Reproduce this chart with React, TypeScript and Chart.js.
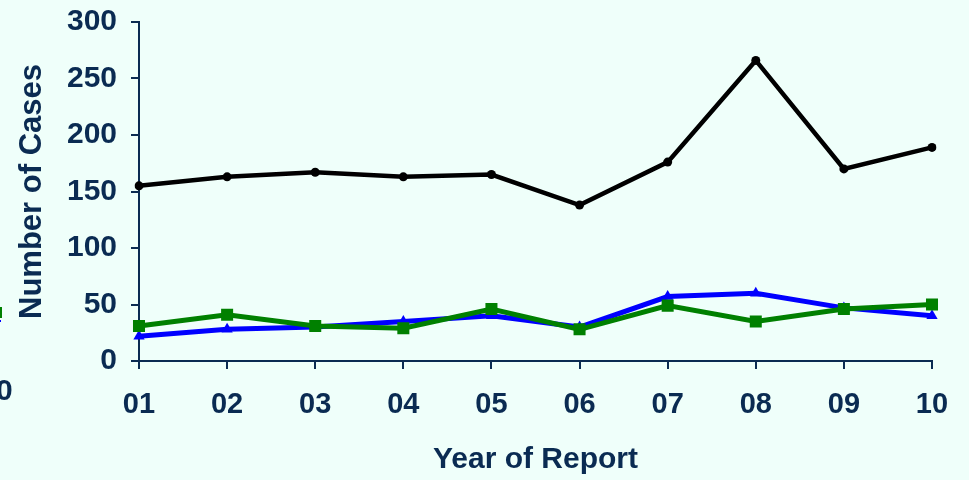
import React, { useEffect, useRef } from "react";
import { Chart, registerables } from "chart.js";

Chart.register(...registerables);

const years = ["01", "02", "03", "04", "05", "06", "07", "08", "09", "10"];
const blackSeries = [155, 163, 167, 163, 165, 138, 176, 266, 170, 189];
const greenSeries = [31, 41, 31, 29, 46, 28, 49, 35, 46, 50];
const blueSeries = [22, 28, 30, 35, 40, 30, 57, 60, 47, 40];

const NAVY = "#0a2b52";
const BG = "#effffa";
const FONT = "'Liberation Sans', Arial, sans-serif";

const bgPlugin = {
  id: "bg",
  beforeDraw(chart: any) {
    const { ctx, width, height } = chart;
    ctx.save();
    ctx.fillStyle = BG;
    ctx.fillRect(0, 0, width, height);
    ctx.restore();
  },
  afterDraw(chart: any) {
    // cropped fragments of an off-canvas legend at the left edge
    const { ctx } = chart;
    ctx.save();
    ctx.fillStyle = "#008000";
    ctx.fillRect(-9, 307, 11, 11);
    ctx.fillStyle = "#0000ff";
    ctx.fillRect(-9, 320, 10, 2);
    ctx.fillStyle = NAVY;
    ctx.font = `bold 30px ${FONT}`;
    ctx.textAlign = "left";
    ctx.textBaseline = "alphabetic";
    ctx.fillText("0", -4, 400);
    ctx.restore();
  },
};

export default function App() {
  const ref = useRef<HTMLCanvasElement>(null);
  useEffect(() => {
    document.body.style.margin = "0";
    const chart = new Chart(ref.current!, {
      type: "line",
      data: {
        labels: years,
        datasets: [
          {
            data: blackSeries,
            borderColor: "#000000",
            backgroundColor: "#000000",
            borderWidth: 4.5,
            pointStyle: "circle",
            pointRadius: 4.5,
            pointBorderWidth: 0,
            tension: 0,
          },
          {
            data: greenSeries,
            borderColor: "#008000",
            backgroundColor: "#008000",
            borderWidth: 5,
            pointStyle: "rect",
            pointRadius: 8.5,
            pointBorderWidth: 0,
            tension: 0,
          },
          {
            data: blueSeries,
            borderColor: "#0000ff",
            backgroundColor: "#0000ff",
            borderWidth: 5,
            pointStyle: "triangle",
            pointRadius: 6.5,
            pointBorderWidth: 0,
            tension: 0,
          },
        ],
      },
      options: {
        responsive: false,
        animation: false,
        layout: { padding: { top: 22, right: 37, left: 0, bottom: 0 } },
        plugins: { legend: { display: false }, tooltip: { enabled: false } },
        scales: {
          x: {
            offset: false,
            grid: {
              drawOnChartArea: false,
              drawTicks: true,
              tickLength: 8,
              color: NAVY,
              lineWidth: 2,
            },
            border: { display: true, color: NAVY, width: 2 },
            ticks: {
              color: NAVY,
              font: { family: FONT, size: 29, weight: "bold" },
              padding: 19,
              maxRotation: 0,
            },
            title: {
              display: true,
              text: "Year of Report",
              color: NAVY,
              font: { family: FONT, size: 30, weight: "bold" },
              padding: { top: 0, bottom: 2 },
            },
            afterFit(scale: any) {
              scale.height = 119;
              scale.paddingLeft = 0;
              scale.paddingRight = 0;
            },
          },
          y: {
            min: 0,
            max: 300,
            ticks: {
              stepSize: 50,
              color: NAVY,
              font: { family: FONT, size: 30, weight: "bold" },
              padding: 14,
            },
            grid: {
              drawOnChartArea: false,
              drawTicks: true,
              tickLength: 8,
              color: NAVY,
              lineWidth: 2,
            },
            border: { display: true, color: NAVY, width: 2 },
            title: {
              display: true,
              text: "Number of Cases",
              color: NAVY,
              font: { family: FONT, size: 31, weight: "bold" },
              padding: { top: 14, bottom: 0 },
            },
            afterFit(scale: any) {
              scale.width = 139;
              scale.paddingTop = 0;
              scale.paddingBottom = 0;
            },
          },
        },
      },
      plugins: [bgPlugin],
    } as any);
    return () => chart.destroy();
  }, []);
  return <canvas ref={ref} width={969} height={480} style={{ display: "block" }} />;
}
